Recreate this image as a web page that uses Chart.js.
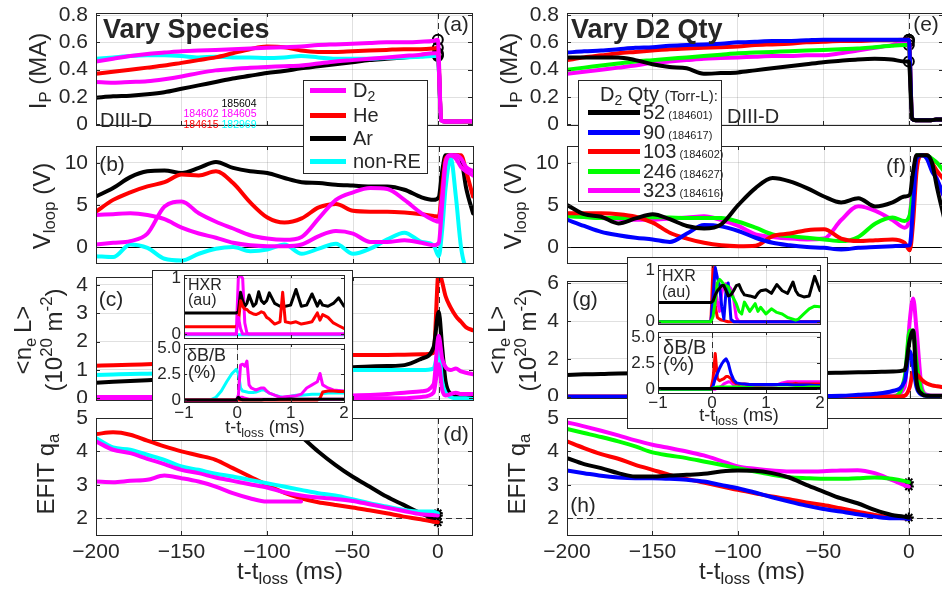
<!DOCTYPE html>
<html>
<head>
<meta charset="utf-8">
<script src="https://cdn.jsdelivr.net/npm/chart.js@4.4.1/dist/chart.umd.min.js"></script>
<style>
html, body { margin: 0; padding: 0; background: #fff; }
#fig { position: relative; width: 942px; height: 589px; overflow: hidden; font-family: 'Liberation Sans', Arial, Helvetica, sans-serif; color: #262626; }
#fig canvas { position: absolute; }
.t { position: absolute; white-space: nowrap; line-height: 1; }
sub { font-size: 70%; vertical-align: -0.3em; line-height: 0; }
sup { font-size: 70%; vertical-align: 0.6em; line-height: 0; }
.box { position: absolute; background: #fff; border: 1px solid #262626; box-sizing: border-box; }
.smp { position: absolute; height: 5px; }
</style>
</head>
<body>
<div id="fig"></div>
<script>
// ---- time bases ----
const tMain = [-200,-190,-180,-170,-160,-150,-140,-130,-120,-110,-100,-90,-80,-70,-60,-50,-40,-30,-20,-10,-3,0,2,4,7,10,13,16,20];
const tIn = [-1,-0.5,-0.4,-0.3,-0.2,-0.1,-0.02,0.02,0.06,0.1,0.14,0.18,0.22,0.26,0.3,0.35,0.4,0.45,0.5,0.55,0.6,0.7,0.8,0.85,0.9,1.0,1.1,1.2,1.3,1.4,1.5,1.55,1.6,1.7,1.8,1.9,2.0];

// ---- tick labels ----
const xTicksMain = [-200,-150,-100,-50,0];
const xLabelsMain = ['\u2212200','\u2212150','\u2212100','\u221250','0'];
const xTicksIn = [-1,0,1,2];
const xLabelsIn = ['\u22121','0','1','2'];
const ipTicks = [0,0.2,0.4,0.6,0.8];
const ipLabels = ['0','0.2','0.4','0.6','0.8'];
const vlTicks = [0,5,10];
const vlLabels = ['0','5','10'];
const neTicksL = [0,1,2,3,4];
const neLabelsL = ['0','1','2','3','4'];
const neTicksR = [0,2,4,6];
const neLabelsR = ['0','2','4','6'];
const qTicks = [2,3,4,5];
const qLabels = ['2','3','4','5'];
const hxTicks = [0,1];
const hxLabels = ['0','1'];
const dbTicks = [0,2.5,5];
const dbLabels = ['0','2.5','5.0'];

// ---- left column: vary species ----
const speciesNames = ['D<sub>2</sub>','He','Ar','non-RE'];
const speciesColors = ['#ff00ff','#ff0000','#000000','#00ffff'];
const shotLabels = ['185604','184602','184605','184615','182969'];
const shotColors = ['#000000','#ff00ff','#ff00ff','#ff0000','#00ffff'];

const ipD2a = [.46,.48,.50,.515,.525,.535,.54,.545,.55,.555,.56,.565,.57,.58,.585,.59,.595,.60,.60,.605,.61,.62,.03,.02,.02,.02,.02,.02,.02];
const ipD2b = [.31,.305,.31,.315,.33,.35,.375,.395,.405,.415,.42,.425,.43,.445,.46,.47,.48,.49,.50,.51,.52,.52,.03,.02,.02,.02,.02,.025,.025];
const ipHe  = [.37,.385,.40,.415,.43,.45,.47,.49,.52,.55,.57,.565,.54,.53,.53,.535,.54,.545,.55,.55,.555,.56,.03,.02,.02,.02,.02,.02,.02];
const ipNon = [.48,.49,.50,.505,.505,.50,.49,.495,.49,.49,.485,.49,.50,.49,.48,.48,.48,.485,.49,.495,.50,.50,.03,.02,.02,.02,.02,.02,.02];
const ipAr  = [.195,.205,.21,.22,.235,.26,.285,.31,.335,.355,.375,.39,.41,.425,.44,.455,.47,.48,.49,.50,.505,.51,.03,.02,.02,.02,.02,.02,.025];

const vlD2a = [0.3,0.5,0.7,1.6,4.8,5.4,4.0,3.0,2.2,1.4,1.0,0.85,1.2,3.4,5.6,6.5,7.0,6.9,5.6,4.0,3.2,3.0,6.0,10.0,10.9,10.9,10.5,9.5,9.0];
const vlD2b = [3.8,3.9,4.0,3.8,3.3,2.3,1.6,1.1,0.5,0.2,0.1,0.1,0.3,1.3,1.9,1.6,0.6,0.6,0.8,0.5,0.2,0.5,5.0,10.0,10.9,10.5,9.5,9.0,8.5];
const vlHe  = [4.2,5.6,6.5,7.2,7.7,8.6,8.5,9.0,7.6,5.3,3.5,2.9,3.4,4.7,5.1,4.3,4.2,4.2,4.1,3.9,3.7,3.6,7.0,10.5,10.9,10.9,10.9,9.0,6.0];
const vlNon = [-1.1,-1.2,0.3,-0.1,-1.4,-1.6,-0.8,-0.2,0.0,-0.5,-0.3,0.3,-0.8,-0.2,0.4,-0.8,-0.2,0.9,1.7,0.6,0.2,-1.1,2.0,7.0,10.6,6.0,0.0,-2.5,-3.0];
const vlAr  = [6.0,7.0,8.3,9.0,9.1,8.8,9.4,10.1,9.4,9.0,8.8,8.2,7.7,7.6,7.4,7.3,7.2,7.2,6.8,5.9,5.6,5.9,9.0,10.9,10.9,10.9,10.5,7.0,4.0];

const neD2a = [.05,.05,.05,.05,.05,.05,.05,.05,.05,.05,.05,.05,.05,.06,.08,.1,.12,.15,.2,.25,.5,2.2,1.4,1.1,1.0,1.05,.95,.9,.85];
const neD2b = [0,0,0,0,0,0,0,0,0,0,0,0,0,0,0,0,0,0,0,.05,.2,1.2,.3,.1,.15,.2,.15,.15,.15];
const neHe  = [1.15,1.17,1.18,1.2,1.22,1.25,1.28,1.3,1.33,1.36,1.39,1.42,1.45,1.47,1.5,1.53,1.53,1.53,1.54,1.55,1.6,4.5,4.1,3.6,3.2,2.9,2.7,2.5,2.4];
const neNon = [.82,.84,.86,.87,.88,.89,.9,.91,.92,.93,.94,.95,.96,.97,.98,1.0,1.0,1.0,1.0,1.0,1.05,1.7,.6,.2,.05,0,0,0,-.03];
const neAr  = [.55,.58,.61,.64,.67,.7,.74,.78,.82,.86,.9,.94,.98,1.02,1.06,1.1,1.12,1.14,1.17,1.4,1.8,3.05,1.8,.6,.15,.08,.1,.1,.12];

const qD2a = [4.3,4.05,3.95,3.78,3.62,3.45,3.35,3.22,3.12,3.02,2.92,2.78,2.68,2.62,2.58,2.52,2.42,2.32,2.22,2.12,2.1,2.08,null,null,null,null,null,null,null];
const qD2b = [3.1,3.08,3.12,3.15,3.28,3.2,3.1,2.95,2.75,2.6,2.5,2.5,2.5,null,null,null,null,null,null,null,null,null,null,null,null,null,null,null,null];
const qHe  = [4.52,4.57,4.5,4.32,4.15,4.0,3.88,3.75,3.5,3.25,3.0,2.77,2.6,2.48,2.4,2.32,2.24,2.15,2.05,1.97,1.9,1.88,null,null,null,null,null,null,null];
const qNon = [4.4,4.12,4.05,3.9,3.75,3.55,3.45,3.33,3.25,3.15,3.05,2.95,2.85,2.75,2.68,2.57,2.45,2.35,2.25,2.2,2.2,2.15,null,null,null,null,null,null,null];
const qAr  = [null,null,null,null,null,null,null,null,6.0,5.6,5.2,4.85,4.45,4.0,3.6,3.25,2.95,2.65,2.4,2.15,2.0,null,null,null,null,null,null,null,null];

// inset, left
const hxD2a = [0,0,0,0,0,0,0,1.05,1.05,1.0,.2,.02,0,0,0,0,0,0,0,0,0,0,0,0,0,0,0,0,0,0,0,0,0,0,0,0,0];
const hxD2b = [0,0,0,0,0,0,0,.3,.1,0,0,0,0,0,0,0,0,0,0,0,0,0,0,0,0,0,0,0,0,0,0,0,0,0,0,0,0];
const hxHe  = [.13,.13,.13,.13,.13,.13,.13,.2,.6,.5,.45,.44,.4,.38,.36,.35,.37,.4,.38,.3,.27,.18,.22,.75,.22,.2,.22,.18,.2,.22,.38,.25,.35,.3,.2,.15,.1];
const hxNon = [-.01,-.01,-.01,-.01,-.01,-.01,-.01,-.01,-.01,-.01,-.01,-.01,-.01,-.01,-.01,-.01,-.01,-.01,-.01,-.01,-.01,-.01,-.01,-.01,-.01,-.01,-.01,-.01,-.01,-.01,-.01,-.01,-.01,-.01,-.01,-.01,-.01];
const hxAr  = [.38,.38,.38,.38,.38,.38,.38,.4,.75,.6,.5,.55,.7,.6,.5,.55,.76,.6,.55,.6,.74,.55,.5,.5,.5,.52,.8,.5,.52,.72,.5,.6,.52,.5,.55,.65,.5];

const dbD2a = [0,0,0,0,0,0,0,.5,3.4,3.5,3.3,3.8,1.5,1.2,1.1,1.0,1.1,1.2,1.2,.9,.7,.5,.3,.3,.35,.4,.45,.6,1.2,1.5,1.8,2.6,1.5,1.2,1.0,.95,.9];
const dbD2b = [0,0,0,0,0,0,0,.1,.3,.3,.2,.15,.1,.1,.1,.1,.1,.1,.1,.1,.1,.1,.1,.1,.1,.1,.1,.1,.1,.1,.1,.1,.1,.1,.1,.1,.1];
const dbHe  = [.03,.03,.03,.03,.03,.03,.03,.03,.03,.03,.03,.03,.03,.03,.03,.03,.03,.03,.03,.03,.03,.03,.03,.03,.03,.03,.03,.03,.03,.03,.03,.2,.8,.9,.9,.85,.85];
const dbNon = [0,.05,.3,.9,1.8,2.6,3.0,2.6,1.2,.9,.85,.8,.75,.75,.75,.8,.9,1.0,1.0,.85,.7,.5,.35,.3,.3,.4,.5,.5,.55,.6,.6,.6,.65,.7,.7,.7,.7];
const dbAr  = [.03,.03,.03,.03,.03,.03,.03,.3,.1,.05,.05,.05,.05,.05,.05,.05,.05,.05,.08,.08,.08,.08,.1,.1,.1,.12,.1,.1,.1,.1,.1,.1,.1,.1,.1,.1,.1];

// ---- right column: vary D2 quantity ----
const qtyLabels = ['52','90','103','246','323'];
const qtyShots = ['184601','184617','184602','184627','184616'];
const qtyColors = ['#000000','#0000ff','#ff0000','#00ff00','#ff00ff'];

const ip52  = [.49,.49,.49,.49,.47,.44,.42,.41,.37,.375,.38,.395,.41,.425,.44,.455,.465,.475,.48,.475,.46,.46,.04,.03,.03,.03,.03,.035,.035];
const ip90  = [.525,.535,.54,.55,.56,.565,.575,.58,.585,.59,.60,.605,.61,.61,.615,.62,.62,.62,.62,.62,.62,.62,.04,.03,.03,.03,.03,.035,.035];
const ip103 = [.47,.49,.505,.52,.53,.54,.55,.555,.56,.565,.57,.58,.585,.59,.60,.605,.61,.61,.615,.615,.62,.62,.04,.03,.03,.03,.03,.035,.035];
const ip246 = [.40,.415,.43,.445,.46,.47,.48,.49,.50,.51,.52,.525,.53,.535,.54,.545,.55,.555,.565,.575,.58,.58,.04,.03,.03,.03,.03,.035,.035];
const ip323 = [.37,.385,.40,.415,.43,.45,.46,.47,.48,.485,.49,.495,.50,.50,.505,.505,.52,.54,.56,.58,.60,.605,.04,.03,.03,.03,.03,.035,.035];

const vl52  = [5.0,3.9,3.6,2.8,3.4,3.9,3.3,2.5,2.2,2.7,5.0,7.0,8.2,7.8,7.0,6.0,5.3,5.8,4.8,5.3,6.0,6.2,9.0,10.9,10.9,10.9,10.0,7.0,3.5];
const vl90  = [3.25,2.5,1.8,1.4,1.1,0.9,0.6,1.6,2.6,2.45,1.9,1.1,0.5,0.2,0.0,-0.1,-0.3,-0.1,0.0,0.1,0.15,0.2,5.0,10.5,10.9,10.5,9.0,8.0,6.0];
const vl103 = [4.0,4.0,4.0,3.9,3.6,2.9,1.7,1.0,0.5,0.2,0.1,0.15,1.3,1.6,2.0,2.1,1.0,0.7,0.8,0.9,0.5,-0.4,3.0,9.0,10.9,10.9,10.0,9.0,8.0];
const vl246 = [3.65,3.55,3.45,3.45,3.5,3.55,3.5,3.45,3.45,3.45,3.0,2.3,1.5,1.3,1.1,0.9,0.7,1.2,2.8,3.5,3.1,3.8,7.0,10.9,10.9,10.9,10.5,10.0,9.0];
const vl323 = [3.85,3.6,3.45,3.35,3.25,3.25,3.4,3.5,3.65,3.2,2.5,1.5,1.2,1.0,0.9,1.0,3.2,4.85,4.3,3.2,2.3,3.6,8.0,10.9,10.9,10.9,10.0,8.0,6.0];

const ne52  = [1.15,1.18,1.2,1.23,1.24,1.24,1.24,1.24,1.24,1.24,1.24,1.24,1.24,1.24,1.24,1.25,1.27,1.29,1.31,1.33,1.4,3.0,3.5,0.8,0.15,0.05,0.05,0.05,0.05];
const ne90  = [0,0,0,0,0,0,0,0,0,0,0,0,0,0,0,.03,.05,.1,.15,.3,.8,2.4,1.6,.5,.1,.05,.03,.03,.03];
const ne103 = [0,0,0,0,0,0,0,0,0,0,0,0,0,0,0,0,0,0,0,0,.05,.5,1.3,1.2,.9,.7,.6,.55,.5];
const ne246 = [0,0,0,0,0,0,0,0,0,0,0,0,0,0,0,0,0,0,0,0,1.0,3.5,3.5,1.8,.3,.05,0,0,0];
const ne323 = [.02,.02,.02,.02,.02,.02,.02,.02,.02,.02,.02,.02,.02,.02,.02,.02,.02,.02,.02,.05,.5,4.0,5.2,3.5,.5,.1,.05,.05,.05];

const q52  = [3.8,3.62,3.5,3.35,3.25,3.25,3.28,3.3,3.33,3.4,3.43,3.42,3.35,3.22,3.0,2.8,2.6,2.45,2.25,2.1,2.05,2.02,null,null,null,null,null,null,null];
const q90  = [3.43,3.35,3.27,3.22,3.2,3.2,3.18,3.15,3.1,3.0,2.9,2.77,2.63,2.5,2.38,2.28,2.2,2.12,2.05,2.0,2.0,1.98,null,null,null,null,null,null,null];
const q103 = [4.3,4.1,3.92,3.78,3.6,3.45,3.3,3.18,3.07,2.96,2.85,2.75,2.65,2.57,2.47,2.4,2.3,2.2,2.1,2.03,2.0,2.0,null,null,null,null,null,null,null];
const q246 = [4.67,4.55,4.43,4.3,4.15,3.97,3.88,3.8,3.7,3.6,3.5,3.4,3.3,3.23,3.2,3.18,3.18,3.2,3.22,3.18,3.12,3.08,null,null,null,null,null,null,null];
const q323 = [4.87,4.75,4.62,4.48,4.33,4.2,4.1,4.0,3.88,3.72,3.55,3.48,3.43,3.4,3.4,3.41,3.43,3.44,3.35,3.15,3.0,2.95,null,null,null,null,null,null,null];

// inset, right
const hx52  = [.37,.37,.37,.37,.37,.37,.37,.4,.52,.6,.65,.7,.7,.6,.5,.52,.6,.7,.72,.6,.52,.5,.47,.55,.6,.62,.55,.72,.6,.55,.77,.6,.52,.48,.5,.88,.6];
const hx90  = [0,0,0,0,0,0,0,.5,1.05,.85,.7,.3,.05,.6,.75,.05,0,0,0,0,0,0,0,0,0,0,0,0,0,0,0,0,0,0,0,0,0];
const hx103 = [0,0,0,0,0,0,0,1.1,.3,.08,.05,.03,.02,.01,0,0,0,0,0,0,0,0,0,0,0,0,0,0,0,0,0,0,0,0,0,0,0];
const hx246 = [0,0,0,0,0,0,0,.1,.4,.75,.82,.78,.72,.7,.68,.55,.45,.35,.2,.15,.38,.2,.35,.2,.28,.15,.25,.18,.15,.08,.05,.03,.05,.15,.25,.3,.29];
const hx323 = [0,0,0,0,0,0,0,.38,.64,.4,.2,.55,.72,.74,.7,.64,.45,.08,0,0,0,0,0,0,0,0,0,0,0,0,0,0,0,0,0,0,0];

const db52  = [.05,.05,.05,.05,.05,.05,.05,.05,.05,.05,.05,.05,.05,.05,.05,.05,.05,.05,.05,.05,.05,.05,.05,.05,.05,.05,.05,.05,.05,.05,.05,.05,.05,.05,.05,.05,.05];
const db90  = [0,0,0,0,0,0,0,.3,1.0,1.5,2.0,2.4,2.7,2.9,2.5,1.5,.9,.6,.55,.5,.5,.45,.45,.45,.45,.45,.45,.45,.45,.45,.4,.4,.4,.4,.4,.35,.35];
const db103 = [0,0,0,0,0,0,0,1.0,3.4,1.0,.8,.9,1.0,1.2,1.2,1.0,.7,.5,.45,.5,.5,.45,.4,.4,.4,.45,.45,.45,.45,.5,.5,.55,.5,.5,.5,.5,.5];
const db246 = [0,0,0,0,0,0,0,.1,.15,.2,.2,.2,.2,.2,.2,.2,.2,.2,.2,.2,.15,.15,.1,.1,.1,.1,.1,.1,.1,.1,.1,.15,.15,.15,.2,.2,.2];
const db323 = [0,0,0,0,0,0,0,0,0,.1,.2,.3,.5,.6,.7,.65,.4,.2,.2,.2,.2,.25,.3,.3,.3,.3,.35,.4,.6,.7,.7,.7,.7,.7,.7,.7,.7];

// ---- drawing ----
const INK = '#262626';
const GRID = 'rgba(38,38,38,0.14)';
const FONT = "'Liberation Sans', Arial, Helvetica, sans-serif";
const fig = document.getElementById('fig');

// axes box, inward ticks and reference lines (MATLAB look)
const frame = {
  id: 'frame',
  beforeDatasetsDraw(chart, args, o) {
    const { ctx, chartArea: a, scales: { x, y } } = chart;
    ctx.save();
    ctx.beginPath();
    ctx.rect(a.left, a.top, a.width, a.height);
    ctx.clip();
    ctx.lineWidth = 1;
    ctx.strokeStyle = '#000';
    if (o.zeroY) {
      const py = Math.round(y.getPixelForValue(0)) + 0.5;
      ctx.beginPath(); ctx.moveTo(a.left, py); ctx.lineTo(a.right, py); ctx.stroke();
    }
    ctx.setLineDash([6, 4]);
    ctx.strokeStyle = '#333';
    if (o.vLine != null) {
      const px = Math.round(x.getPixelForValue(o.vLine)) + 0.5;
      ctx.beginPath(); ctx.moveTo(px, a.top); ctx.lineTo(px, a.bottom); ctx.stroke();
    }
    if (o.hLine != null) {
      const py = Math.round(y.getPixelForValue(o.hLine)) + 0.5;
      ctx.beginPath(); ctx.moveTo(a.left, py); ctx.lineTo(a.right, py); ctx.stroke();
    }
    ctx.restore();
  },
  afterDraw(chart, args, o) {
    const { ctx, chartArea: a, scales: { x, y } } = chart;
    const L = o.tick || 4;
    ctx.save();
    ctx.strokeStyle = INK;
    ctx.lineWidth = 1;
    ctx.beginPath();
    x.ticks.forEach(t => {
      const px = Math.round(x.getPixelForValue(t.value)) + 0.5;
      ctx.moveTo(px, a.bottom); ctx.lineTo(px, a.bottom - L);
      ctx.moveTo(px, a.top); ctx.lineTo(px, a.top + L);
    });
    y.ticks.forEach(t => {
      const py = Math.round(y.getPixelForValue(t.value)) + 0.5;
      ctx.moveTo(a.left, py); ctx.lineTo(a.left + L, py);
      ctx.moveTo(a.right, py); ctx.lineTo(a.right - L, py);
    });
    ctx.stroke();
    ctx.strokeRect(Math.round(a.left) + 0.5, Math.round(a.top) + 0.5, Math.round(a.width), Math.round(a.height));
    ctx.restore();
  }
};

function line(times, vals, color, w, smooth) {
  return {
    data: times.map((t, i) => ({ x: t, y: vals[i] })),
    borderColor: color, backgroundColor: color, borderWidth: w,
    pointRadius: 0, tension: 0,
    cubicInterpolationMode: smooth ? 'monotone' : 'default',
    borderJoinStyle: 'round', borderCapStyle: 'round'
  };
}

function endMarks(times, list, style) {
  const pts = list.map(v => {
    let i = v.length - 1;
    while (v[i] == null) i--;
    return { x: times[i], y: v[i] };
  });
  return {
    data: pts, showLine: false, pointStyle: style, pointRadius: 5,
    pointBorderColor: '#000', pointBackgroundColor: 'rgba(0,0,0,0)', pointBorderWidth: 2,
    borderColor: '#000'
  };
}

function panel(r, datasets, o) {
  const yw = o.yw, xh = o.xh, pt = o.pt, pr = 6;
  const cv = document.createElement('canvas');
  cv.width = r.w + yw + pr;
  cv.height = r.h + pt + xh;
  cv.style.left = (r.l - yw) + 'px';
  cv.style.top = (r.t - pt) + 'px';
  fig.appendChild(cv);
  const tickFont = { family: FONT, size: o.fs };
  return new Chart(cv, {
    type: 'line',
    data: { datasets },
    options: {
      responsive: false, animation: false, devicePixelRatio: 1,
      layout: { padding: { top: pt, right: pr, left: 0, bottom: 0 } },
      plugins: { legend: { display: false }, tooltip: { enabled: false }, frame: o.refs },
      scales: {
        x: {
          type: 'linear', min: o.x[0], max: o.x[1],
          afterBuildTicks: s => { s.ticks = o.xt.map(v => ({ value: v })); },
          afterFit: s => { s.height = xh; s.paddingLeft = 0; s.paddingRight = 0; },
          grid: { color: GRID, drawTicks: false },
          border: { color: INK },
          ticks: { display: !!o.showX, padding: o.xpad || 0, color: INK, font: tickFont,
                   maxRotation: 0, autoSkip: false, callback: (v, i) => o.xl[i] }
        },
        y: {
          type: 'linear', min: o.y[0], max: o.y[1],
          afterBuildTicks: s => { s.ticks = o.yt.map(v => ({ value: v })); },
          afterFit: s => { s.width = yw; s.paddingTop = 0; s.paddingBottom = 0; },
          grid: { color: GRID, drawTicks: false },
          border: { color: INK },
          ticks: { padding: o.ypad, color: INK, font: tickFont, autoSkip: false,
                   callback: (v, i) => o.yl[i] }
        }
      }
    },
    plugins: [frame]
  });
}

function text(html, x, y, o) {
  const d = document.createElement('div');
  d.className = 't';
  d.innerHTML = html;
  d.style.left = x + 'px';
  d.style.top = y + 'px';
  d.style.fontSize = (o.size || 21) + 'px';
  if (o.color) d.style.color = o.color;
  if (o.bold) d.style.fontWeight = 'bold';
  if (o.rot) {
    d.style.transform = 'translate(-50%,-50%) rotate(-90deg)';
    d.style.textAlign = 'center';
    d.style.lineHeight = o.lh || 1;
  } else {
    d.style.transform = o.center ? 'translate(-50%,-50%)' : 'translateY(-50%)';
  }
  fig.appendChild(d);
  return d;
}

function box(l, t, w, h) {
  const d = document.createElement('div');
  d.className = 'box';
  Object.assign(d.style, { left: l + 'px', top: t + 'px', width: w + 'px', height: h + 'px' });
  fig.appendChild(d);
}

function sample(l, y, w, color) {
  const d = document.createElement('div');
  d.className = 'smp';
  Object.assign(d.style, { left: l + 'px', top: (y - 2.5) + 'px', width: w + 'px', background: color });
  fig.appendChild(d);
}

const [cD2, cHe, cAr, cNon] = speciesColors;
const LW = 4;
const main = (o) => Object.assign({ yw: 70, xh: 3, pt: 14, fs: 21, ypad: 8, x: [-200, 20], xt: xTicksMain, xl: xLabelsMain }, o);
const left = (list) => list.map(([v, c]) => line(tMain, v, c, LW, true));

// left column
panel({ l: 96, t: 13, w: 377, h: 116 },
  left([[ipD2a, cD2], [ipD2b, cD2], [ipHe, cHe], [ipNon, cNon], [ipAr, cAr]])
    .concat([endMarks(tMain.slice(0, 22), [ipD2a, ipD2b, ipHe, ipNon, ipAr].map(v => v.slice(0, 22)), 'circle')]),
  main({ y: [-0.005, 0.815], yt: ipTicks, yl: ipLabels, refs: { vLine: 0 } }));
panel({ l: 96, t: 146, w: 377, h: 117 },
  left([[vlD2a, cD2], [vlD2b, cD2], [vlHe, cHe], [vlNon, cNon], [vlAr, cAr]]),
  main({ y: [-1.9, 12], yt: vlTicks, yl: vlLabels, refs: { vLine: 0, zeroY: true } }));
panel({ l: 96, t: 277, w: 377, h: 123 },
  left([[neD2a, cD2], [neD2b, cD2], [neNon, cNon], [neAr, cAr], [neHe, cHe]]),
  main({ y: [-0.06, 4.28], yt: neTicksL, yl: neLabelsL, refs: { vLine: 0 } }));
panel({ l: 96, t: 418, w: 377, h: 117 },
  left([[qD2a, cD2], [qD2b, cD2], [qNon, cNon], [qHe, cHe], [qAr, cAr]])
    .concat([endMarks(tMain, [qD2a, qHe, qNon, qAr], 'star')]),
  main({ y: [1.5, 5], yt: qTicks, yl: qLabels, refs: { vLine: 0, hLine: 2 }, xh: 32, showX: true, xpad: 5 }));

// right column
const right = (list) => list.map((v, i) => line(tMain, v, qtyColors[i], LW, true));
panel({ l: 567, t: 13, w: 377, h: 116 },
  right([ip52, ip90, ip103, ip246, ip323])
    .concat([endMarks(tMain.slice(0, 22), [ip52, ip90, ip103, ip246, ip323].map(v => v.slice(0, 22)), 'circle')]),
  main({ y: [-0.005, 0.815], yt: ipTicks, yl: ipLabels, refs: { vLine: 0 } }));
panel({ l: 567, t: 146, w: 377, h: 117 },
  right([vl52, vl90, vl103, vl246, vl323]),
  main({ y: [-1.9, 12], yt: vlTicks, yl: vlLabels, refs: { vLine: 0, zeroY: true } }));
panel({ l: 567, t: 281, w: 377, h: 117 },
  right([ne52, ne90, ne103, ne246, ne323]),
  main({ y: [-0.07, 6.12], yt: neTicksR, yl: neLabelsR, refs: { vLine: 0 } }));
panel({ l: 567, t: 418, w: 377, h: 117 },
  right([q52, q90, q103, q246, q323])
    .concat([endMarks(tMain, [q52, q246, q323], 'star')]),
  main({ y: [1.5, 5], yt: qTicks, yl: qLabels, refs: { vLine: 0, hLine: 2 }, xh: 32, showX: true, xpad: 5 }));

// axis titles and panel notes
const axTitle = (html, x, y) => text(html, x, y, { size: 24, rot: true });
axTitle('I<sub>P</sub> (MA)', 38, 71);
axTitle('V<sub>loop</sub> (V)', 42, 206);
text('&lt;n<sub>e </sub>L&gt;<br>(10<sup>20</sup> m<sup>-2</sup>)', 38, 340, { size: 24, rot: true, lh: 1.3 });
axTitle('EFIT q<sub>a</sub>', 46, 474);
axTitle('I<sub>P</sub> (MA)', 509, 71);
axTitle('V<sub>loop</sub> (V)', 513, 206);
text('&lt;n<sub>e </sub>L&gt;<br>(10<sup>20</sup> m<sup>-2</sup>)', 512, 340, { size: 24, rot: true, lh: 1.3 });
axTitle('EFIT q<sub>a</sub>', 517, 474);
text('t-t<sub>loss</sub> (ms)', 290, 571, { size: 24, center: true });
text('t-t<sub>loss</sub> (ms)', 752, 571, { size: 24, center: true });

text('Vary Species', 103, 29, { size: 27, bold: true });
text('Vary D2 Qty', 571, 29, { size: 27, bold: true });
text('(a)', 456, 23, { center: true });
text('(b)', 112, 163, { center: true });
text('(c)', 111, 298, { center: true });
text('(d)', 456, 433, { center: true });
text('(e)', 926, 23, { center: true });
text('(f)', 896, 165, { center: true });
text('(g)', 585, 298, { center: true });
text('(h)', 583, 504, { center: true });
text('DIII-D', 100, 120, { size: 20 });
text('DIII-D', 727, 116, { size: 20 });
const shotPos = [[239, 103], [201, 113], [239, 113], [201, 124], [239, 124]];
shotLabels.forEach((s, i) => text(s, shotPos[i][0], shotPos[i][1], { size: 10.5, center: true, color: shotColors[i] }));

// legends
box(303, 80, 125, 94);
[90, 115, 138, 161].forEach((y, i) => {
  sample(310, y, 36, speciesColors[i]);
  text(speciesNames[i], 353, y, { size: 20 });
});
box(578, 80, 144, 122);
text('D<sub>2</sub> Qty <span style="font-size:15px">(Torr-L):</span>', 600, 94, { size: 20 });
[112, 132, 151, 171, 190].forEach((y, i) => {
  sample(588, y, 52, qtyColors[i]);
  text(qtyLabels[i] + '<span style="font-size:11px"> (' + qtyShots[i] + ')</span>', 643, y, { size: 20 });
});

// insets
const inset = (o) => Object.assign({ yw: 32, xh: 2, pt: 8, fs: 17, ypad: 3, x: [-1, 2], xt: xTicksIn, xl: xLabelsIn, refs: { vLine: 0, tick: 3 } }, o);
const IW = 3;
box(152, 270, 201, 171);
panel({ l: 184, t: 275, w: 160, h: 63 },
  [line(tIn, hxD2b, cD2, IW), line(tIn, hxHe, cHe, IW), line(tIn, hxAr, cAr, IW), line(tIn, hxD2a, cD2, IW), line(tIn, hxNon, cNon, IW)],
  inset({ y: [-0.07, 1.06], yt: hxTicks, yl: hxLabels }));
panel({ l: 184, t: 344, w: 160, h: 58 },
  [line(tIn, dbAr, cAr, IW), line(tIn, dbHe, cHe, IW), line(tIn, dbD2b, cD2, IW), line(tIn, dbD2a, cD2, IW), line(tIn, dbNon, cNon, IW)],
  inset({ y: [-0.16, 5.45], yt: dbTicks, yl: dbLabels, xh: 22, showX: true, xpad: 1 }));
text('HXR', 188, 285, { size: 16 });
text('(au)', 188, 300, { size: 16 });
text('\u03b4B/B', 187, 355, { size: 18 });
text('(%)', 188, 372, { size: 18 });
text('t-t<sub>loss</sub> (ms)', 265, 427, { size: 18, center: true });

box(627, 257, 201, 172);
panel({ l: 658, t: 265, w: 162, h: 59 },
  [hx52, hx246, hx90, hx103, hx323].map((v, i) => line(tIn, v, [qtyColors[0], qtyColors[3], qtyColors[1], qtyColors[2], qtyColors[4]][i], IW)),
  inset({ y: [-0.045, 1.1], yt: hxTicks, yl: hxLabels }));
panel({ l: 658, t: 332, w: 162, h: 61 },
  [db52, db246, db90, db103, db323].map((v, i) => line(tIn, v, [qtyColors[0], qtyColors[3], qtyColors[1], qtyColors[2], qtyColors[4]][i], IW)),
  inset({ y: [-0.37, 5.46], yt: dbTicks, yl: dbLabels, xh: 22, showX: true, xpad: 0 }));
text('HXR', 662, 276, { size: 16 });
text('(au)', 662, 292, { size: 16 });
text('\u03b4B/B', 663, 347, { size: 20 });
text('(%)', 663, 364, { size: 20 });
text('t-t<sub>loss</sub> (ms)', 739, 415, { size: 18, center: true });
</script>
</body>
</html>
